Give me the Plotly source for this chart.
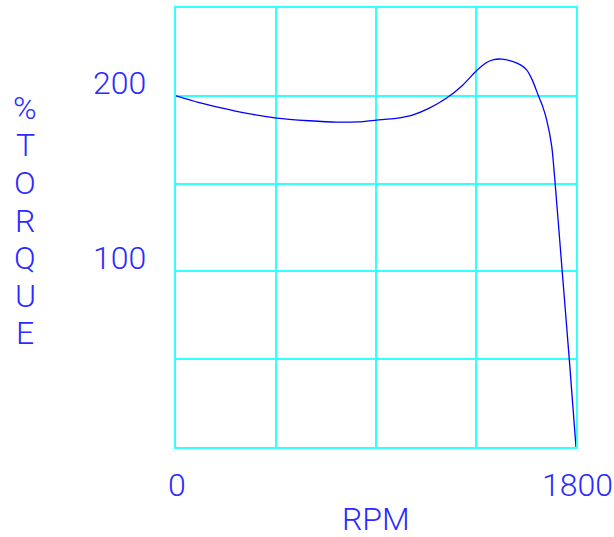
import plotly.graph_objects as go

# Torque-speed curve (RPM, % torque)
rpm = [0, 100, 198, 320, 453, 600, 723, 820, 903, 990, 1067, 1140, 1218, 1290, 1353,
       1398, 1430, 1466, 1517, 1550, 1578, 1605, 1629, 1650, 1668, 1691, 1706, 1738, 1770, 1800]
torque = [200, 196.3, 193.3, 190.0, 187.3, 185.8, 185.0, 185.2, 186.2, 187.2, 189.2, 193.0, 198.7, 206.0, 214.4,
          219.0, 220.6, 220.9, 219.5, 217.6, 214.8, 208.5, 200.6, 194.0, 186.3, 171.1, 150.3, 99.9, 49.6, 0]

x_gridvals = [0, 450, 900, 1350, 1800]
x_labels = [0, 1800]
y_labels = [100, 200]
y_title_letters = ["%", "T", "O", "R", "Q", "U", "E"]
x_title = "RPM"

FONT = "Roboto"
TXT = "#2b2bff"
GRID = "#33ffff"

L, R, T, B = 176, 38, 8, 90
W, H = 614, 537
plot_w = W - L - R
plot_h = H - T - B

fig = go.Figure()
fig.add_trace(go.Scatter(x=rpm, y=torque, mode="lines",
                         line=dict(color="#0000ff", width=1.3, shape="spline", smoothing=0.6),
                         hoverinfo="skip", showlegend=False))

fig.update_layout(
    width=W, height=H,
    margin=dict(l=L, r=R, t=T, b=B, autoexpand=False),
    paper_bgcolor="white", plot_bgcolor="white",
    showlegend=False,
)
fig.update_xaxes(range=[0, 1800], tickvals=x_gridvals, showticklabels=False,
                 showgrid=True, gridcolor=GRID, gridwidth=1.5,
                 showline=True, linecolor=GRID, linewidth=1.5, mirror=True,
                 zeroline=False, ticks="", automargin=False)
fig.update_yaxes(range=[0, 250], dtick=50, showticklabels=False,
                 showgrid=True, gridcolor=GRID, gridwidth=1.5,
                 showline=True, linecolor=GRID, linewidth=1.5, mirror=True,
                 zeroline=False, ticks="", automargin=False)

num_font = dict(family=FONT, size=32, color=TXT, weight=300)

for v in y_labels:
    fig.add_annotation(x=0, xref="paper", y=v, yref="y", text=str(v), showarrow=False,
                       xanchor="right", yanchor="middle", xshift=-28, yshift=13,
                       font=num_font)
for v in x_labels:
    fig.add_annotation(x=v, xref="x", y=0, yref="paper", text=str(v), showarrow=False,
                       xanchor="center", yanchor="middle", yshift=-38, xshift=1,
                       font=num_font)

for i, ch in enumerate(y_title_letters):
    py = 108 + i * 37.5
    fig.add_annotation(x=(25 - L) / plot_w, xref="paper", y=(H - B - py) / plot_h, yref="paper",
                       text=ch, showarrow=False, xanchor="center", yanchor="middle",
                       font=dict(family=FONT, size=32, color=TXT, weight=300))

fig.add_annotation(x=0.5, xref="paper", y=0, yref="paper", text=x_title, showarrow=False,
                   xanchor="center", yanchor="middle", yshift=-72,
                   font=dict(family=FONT, size=32, color=TXT, weight=300))

fig.write_html("out.html", config={"displayModeBar": False},
               post_script="document.body.style.margin='0';document.body.style.overflow='hidden';")
